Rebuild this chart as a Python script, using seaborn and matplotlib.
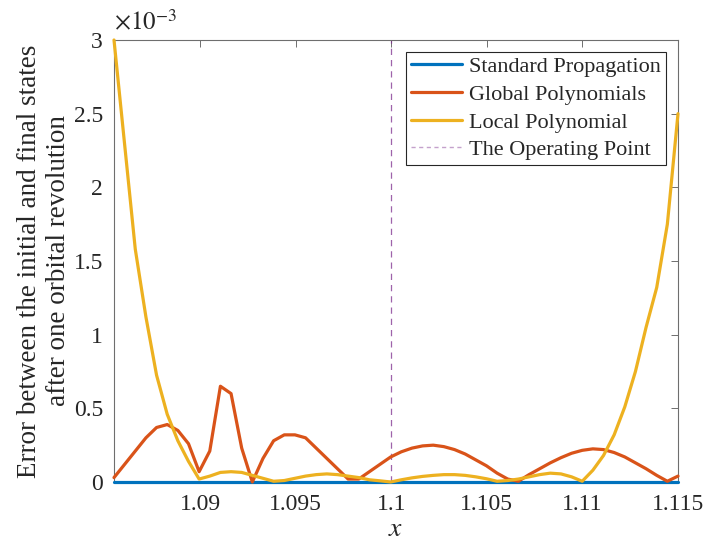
import numpy as np
import pandas as pd
import seaborn as sns
import matplotlib
matplotlib.use("Agg")
import matplotlib.pyplot as plt
from matplotlib.ticker import FuncFormatter, FixedLocator
from matplotlib.lines import Line2D

# Sample grid along x
x_values = np.linspace(1.0855, 1.115, 54)

# Error after one orbital revolution, in units of 1e-3
standard_err = [0.0] * 54
global_err = [0.03, 0.12, 0.21, 0.30, 0.37, 0.39, 0.35, 0.26, 0.07, 0.21,
              0.65, 0.60, 0.23, 0.00, 0.16, 0.28, 0.32, 0.32, 0.30, 0.23,
              0.16, 0.09, 0.02, 0.02, 0.07, 0.12, 0.17, 0.205, 0.23, 0.245,
              0.25, 0.24, 0.22, 0.19, 0.15, 0.11, 0.06, 0.02, 0.005, 0.05,
              0.09, 0.13, 0.165, 0.195, 0.215, 0.225, 0.22, 0.20, 0.17, 0.13,
              0.09, 0.045, 0.005, 0.04]
local_err = [3.0, 2.29, 1.58, 1.12, 0.725, 0.46, 0.28, 0.14, 0.02, 0.04,
             0.065, 0.07, 0.065, 0.045, 0.025, 0.005, 0.01, 0.025, 0.04, 0.05,
             0.055, 0.05, 0.04, 0.03, 0.015, 0.008, 0.0, 0.015, 0.028, 0.038,
             0.045, 0.05, 0.05, 0.045, 0.035, 0.022, 0.005, 0.01, 0.02, 0.035,
             0.05, 0.06, 0.055, 0.035, 0.005, 0.08, 0.18, 0.32, 0.51, 0.75,
             1.05, 1.32, 1.75, 2.5]
scale = 1e-3

methods = ["Standard Propagation", "Global Polynomials", "Local Polynomial"]
colors = ["#0072BD", "#D95319", "#EDB120"]
operating_point = 1.1
x_ticks = [1.09, 1.095, 1.1, 1.105, 1.11, 1.115]
y_ticks = [0, 0.5e-3, 1e-3, 1.5e-3, 2e-3, 2.5e-3, 3e-3]

df = pd.concat([
    pd.DataFrame({"x": x_values, "err": np.array(v) * scale, "method": m})
    for m, v in zip(methods, [standard_err, global_err, local_err])
], ignore_index=True)

sns.set_style("white")
plt.rcParams["font.family"] = ["Liberation Serif", "DejaVu Serif"]
plt.rcParams["mathtext.fontset"] = "stix"

fig = plt.figure(figsize=(7.03, 5.46), dpi=100)
ax = fig.add_axes([114 / 703, 1 - 482 / 546, 564 / 703, 442 / 546])

sns.lineplot(data=df, x="x", y="err", hue="method", hue_order=methods,
             palette=colors, linewidth=2.3, estimator=None, sort=False,
             legend=False, ax=ax)
for ln in ax.lines:
    ln.set_clip_on(False)
    ln.set_zorder(3)

ax.axvline(operating_point, color="#7E2F8E", alpha=0.75, linewidth=0.9,
           linestyle=(0, (5, 4)), zorder=1)

ax.set_xlim(1.0855, 1.115)
ax.set_ylim(0, 3e-3)
ax.xaxis.set_major_locator(FixedLocator(x_ticks))
ax.yaxis.set_major_locator(FixedLocator(y_ticks))
ax.xaxis.set_major_formatter(FuncFormatter(lambda v, p: f"{v:g}"))
ax.yaxis.set_major_formatter(FuncFormatter(lambda v, p: f"{v / scale:g}"))

edge = "#6e6e6e"
for s in ax.spines.values():
    s.set_color(edge)
    s.set_linewidth(0.8)
ax.tick_params(direction="in", length=5, width=0.7, color=edge,
               top=True, right=True, labelsize=17, labelcolor="#262626")
ax.tick_params(axis="x", pad=9)
ax.tick_params(axis="y", pad=8)

ax.set_xlabel("$x$", fontsize=20, color="#262626", va="center")
ax.xaxis.set_label_coords(0.5, -48 / 442)
ax.set_ylabel("Error between the initial and final states\nafter one orbital revolution",
              fontsize=19.5, color="#262626", linespacing=1.2, va="center", ha="center")
ax.yaxis.set_label_coords(-70 / 564, 0.5)

fig.text(114 / 703, 1 - 30 / 546, r"$\times10^{-3}$", fontsize=18,
         color="#262626", ha="left", va="baseline")

handles = [Line2D([], [], color=c, linewidth=2.3) for c in colors]
handles.append(Line2D([], [], color="#7E2F8E", alpha=0.45, linewidth=1.0,
                      linestyle=(0, (3, 2.5))))
leg = ax.legend(handles, methods + ["The Operating Point"], loc="upper right",
                fontsize=16, frameon=True, fancybox=False, framealpha=1,
                handlelength=2.3, handletextpad=0.35, labelspacing=0.32,
                borderpad=0.2, borderaxespad=0.55)
leg.get_frame().set_edgecolor("#262626")
leg.get_frame().set_linewidth(0.8)

fig.savefig("out.png", dpi=100)
